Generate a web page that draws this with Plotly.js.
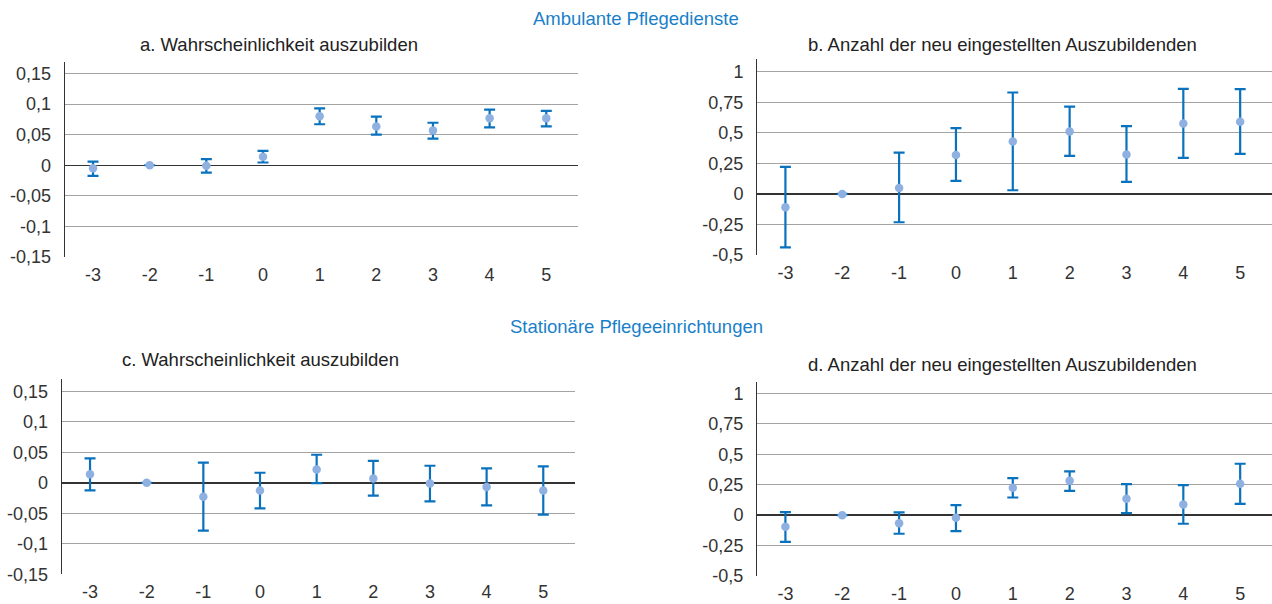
<!DOCTYPE html>
<html>
<head>
<meta charset="utf-8">
<script src="https://cdn.plot.ly/plotly-3.0.1.min.js"></script>
<style>html,body{margin:0;padding:0;background:#fff;}#chart{width:1272px;height:604px;}</style>
</head>
<body>
<div id="chart"></div>
<script>
// ---- data ----
const eventTime = [-3, -2, -1, 0, 1, 2, 3, 4, 5];
const eventLabels = ['-3', '-2', '-1', '0', '1', '2', '3', '4', '5'];

// a. Ambulante Pflegedienste – Wahrscheinlichkeit auszubilden
const aPoint = [-0.005, 0, -0.001, 0.014, 0.080, 0.0635, 0.057, 0.077, 0.077];
const aUpper = [0.006, null, 0.010, 0.0235, 0.093, 0.0795, 0.0695, 0.091, 0.089];
const aLower = [-0.0175, null, -0.012, 0.0045, 0.067, 0.050, 0.0435, 0.062, 0.0635];

// b. Ambulante Pflegedienste – Anzahl der neu eingestellten Auszubildenden
const bPoint = [-0.109, 0, 0.049, 0.319, 0.428, 0.510, 0.322, 0.576, 0.590];
const bUpper = [0.221, null, 0.338, 0.538, 0.830, 0.715, 0.554, 0.860, 0.857];
const bLower = [-0.437, null, -0.232, 0.106, 0.030, 0.311, 0.098, 0.295, 0.328];

// c. Stationäre Pflegeeinrichtungen – Wahrscheinlichkeit auszubilden
const cPoint = [0.014, 0, -0.023, -0.0125, 0.022, 0.007, -0.001, -0.007, -0.0125];
const cUpper = [0.040, null, 0.033, 0.0165, 0.046, 0.036, 0.028, 0.0235, 0.027];
const cLower = [-0.0125, null, -0.0785, -0.042, -0.0005, -0.021, -0.0305, -0.037, -0.052];

// d. Stationäre Pflegeeinrichtungen – Anzahl der neu eingestellten Auszubildenden
const dPoint = [-0.096, 0, -0.066, -0.022, 0.224, 0.282, 0.134, 0.088, 0.257];
const dUpper = [0.025, null, 0.022, 0.082, 0.304, 0.359, 0.255, 0.246, 0.422];
const dLower = [-0.219, null, -0.153, -0.131, 0.145, 0.200, 0.016, -0.071, 0.093];

const probTicks = [-0.15, -0.1, -0.05, 0, 0.05, 0.1, 0.15];
const probTickLabels = ['-0,15', '-0,1', '-0,05', '0', '0,05', '0,1', '0,15'];
const countTicks = [-0.5, -0.25, 0, 0.25, 0.5, 0.75, 1];
const countTickLabels = ['-0,5', '-0,25', '0', '0,25', '0,5', '0,75', '1'];

const sectionTitles = ['Ambulante Pflegedienste', 'Stationäre Pflegeeinrichtungen'];
const panelTitles = [
  'a. Wahrscheinlichkeit auszubilden',
  'b. Anzahl der neu eingestellten Auszubildenden',
  'c. Wahrscheinlichkeit auszubilden',
  'd. Anzahl der neu eingestellten Auszubildenden'
];

// ---- styling / layout ----
const W = 1272, H = 604;
const FONT = 'Liberation Sans, Arial, Helvetica, sans-serif';
const markerColor = '#8eb1e1';
const errColor = '#0a72bd';

function trace(point, upper, lower, xa, ya) {
  return {
    type: 'scatter', mode: 'markers',
    x: eventTime, y: point, xaxis: xa, yaxis: ya,
    marker: {color: markerColor, size: 8.5},
    error_y: {
      type: 'data', symmetric: false,
      array: upper.map((u, i) => u === null ? null : u - point[i]),
      arrayminus: lower.map((l, i) => l === null ? null : point[i] - l),
      color: errColor, thickness: 2.2, width: 5.5
    },
    hoverinfo: 'x+y', showlegend: false, cliponaxis: false
  };
}

function xAxis(pxL, pxR, anchor) {
  return {
    domain: [pxL / W, pxR / W], anchor: anchor,
    range: [-3.5, 5.56], tickvals: eventTime, ticktext: eventLabels,
    showgrid: false, zeroline: false, showline: false, ticks: '',
    ticklabelstandoff: 5,
    tickfont: {family: FONT, size: 18, color: '#333'}, fixedrange: true
  };
}
function yAxis(pxTop, pxBottom, range, tv, tt, anchor) {
  return {
    domain: [(H - pxBottom) / H, (H - pxTop) / H], anchor: anchor,
    range: range, tickvals: tv, ticktext: tt,
    showgrid: true, gridcolor: '#a3a3a3', gridwidth: 1,
    zeroline: true, zerolinecolor: '#333', zerolinewidth: 1.5,
    showline: true, linecolor: '#333', linewidth: 1, ticks: '',
    ticklabelstandoff: 9,
    tickfont: {family: FONT, size: 18, color: '#333'}, fixedrange: true
  };
}

const data = [
  trace(aPoint, aUpper, aLower, 'x', 'y'),
  trace(bPoint, bUpper, bLower, 'x2', 'y2'),
  trace(cPoint, cUpper, cLower, 'x3', 'y3'),
  trace(dPoint, dUpper, dLower, 'x4', 'y4')
];

function ann(text, px, py, color, size) {
  return {text: text, xref: 'paper', yref: 'paper', x: px / W, y: (H - py) / H,
    xanchor: 'center', yanchor: 'middle', showarrow: false,
    font: {family: FONT, size: size, color: color}};
}

const layout = {
  width: W, height: H, margin: {l: 0, r: 0, t: 0, b: 0},
  paper_bgcolor: '#fff', plot_bgcolor: '#fff',
  xaxis: xAxis(64.7, 578, 'y'),
  yaxis: yAxis(62, 257, [-0.15, 0.1688], probTicks, probTickLabels, 'x'),
  xaxis2: xAxis(757, 1272, 'y2'),
  yaxis2: yAxis(59, 255, [-0.5, 1.104], countTicks, countTickLabels, 'x2'),
  xaxis3: xAxis(61.7, 575, 'y3'),
  yaxis3: yAxis(379.3, 574.3, [-0.15, 0.1697], probTicks, probTickLabels, 'x3'),
  xaxis4: xAxis(757, 1272, 'y4'),
  yaxis4: yAxis(381.7, 576, [-0.5, 1.096], countTicks, countTickLabels, 'x4'),
  annotations: [
    ann(sectionTitles[0], 636, 18, '#1a7fc9', 18.5),
    ann(panelTitles[0], 279, 45, '#222', 18.5),
    ann(panelTitles[1], 1002, 44, '#222', 18.5),
    ann(sectionTitles[1], 636, 326, '#1a7fc9', 18.5),
    ann(panelTitles[2], 260, 360, '#222', 18.5),
    ann(panelTitles[3], 1002, 364, '#222', 18.5)
  ]
};

Plotly.newPlot('chart', data, layout, {displayModeBar: false, staticPlot: true});
</script>
</body>
</html>
